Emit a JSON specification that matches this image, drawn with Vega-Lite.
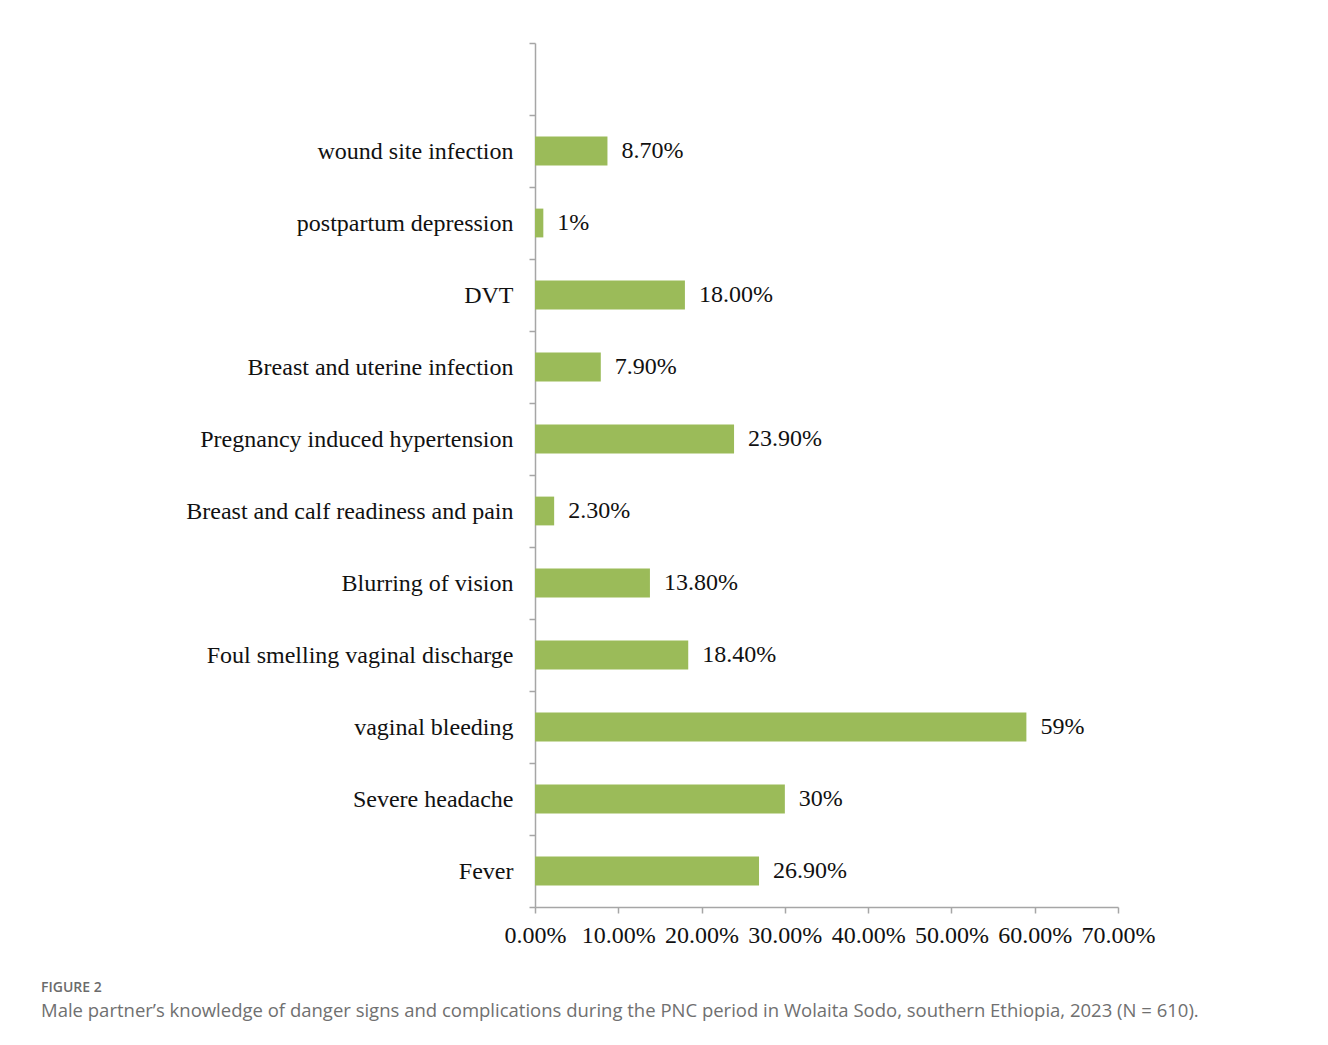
{
  "$schema": "https://vega.github.io/schema/vega-lite/v6.json",
  "autosize": {"type": "none"},
  "padding": {"left": 535, "top": 43, "right": 210, "bottom": 138},
  "width": 583,
  "height": 864,
  "background": "white",
  "config": {"view": {"stroke": null}},
  "title": {
    "text": "FIGURE 2",
    "subtitle": "Male partner’s knowledge of danger signs and complications during the PNC period in Wolaita Sodo, southern Ethiopia, 2023 (N = 610).",
    "orient": "bottom",
    "anchor": "start",
    "frame": "group",
    "dx": -494,
    "offset": 34,
    "font": "Open Sans",
    "fontSize": 14,
    "fontWeight": 600,
    "color": "#6b6b6b",
    "subtitleFont": "Open Sans",
    "subtitleFontSize": 18.5,
    "subtitleColor": "#707070",
    "subtitlePadding": 7
  },
  "data": {
    "values": [
      {"sign": "wound site infection", "pct": 8.7, "label": "8.70%"},
      {"sign": "postpartum depression", "pct": 1, "label": "1%"},
      {"sign": "DVT", "pct": 18.0, "label": "18.00%"},
      {"sign": "Breast and uterine infection", "pct": 7.9, "label": "7.90%"},
      {"sign": "Pregnancy induced hypertension", "pct": 23.9, "label": "23.90%"},
      {"sign": "Breast and calf readiness and pain", "pct": 2.3, "label": "2.30%"},
      {"sign": "Blurring of vision", "pct": 13.8, "label": "13.80%"},
      {"sign": "Foul smelling vaginal discharge", "pct": 18.4, "label": "18.40%"},
      {"sign": "vaginal bleeding", "pct": 59, "label": "59%"},
      {"sign": "Severe headache", "pct": 30, "label": "30%"},
      {"sign": "Fever", "pct": 26.9, "label": "26.90%"}
    ]
  },
  "encoding": {
    "y": {
      "field": "sign",
      "type": "nominal",
      "sort": null,
      "scale": {
        "domain": ["", "wound site infection", "postpartum depression", "DVT", "Breast and uterine infection", "Pregnancy induced hypertension", "Breast and calf readiness and pain", "Blurring of vision", "Foul smelling vaginal discharge", "vaginal bleeding", "Severe headache", "Fever"],
        "paddingInner": 0.6,
        "paddingOuter": 0.3
      },
      "axis": {
        "title": null,
        "domainColor": "#a6a6a6",
        "domainWidth": 1.5,
        "tickColor": "#a6a6a6",
        "tickWidth": 1.5,
        "tickSize": 6,
        "bandPosition": 2.5,
        "tickOffset": -21.6,
        "tickExtra": true,
        "labelOffset": 21.6,
        "labelFont": "Liberation Serif",
        "labelFontSize": 24,
        "labelColor": "#111111",
        "labelPadding": 16,
        "labelLimit": 500
      }
    },
    "x": {
      "field": "pct",
      "type": "quantitative",
      "scale": {"domain": [0, 70], "nice": false},
      "axis": {
        "title": null,
        "values": [0, 10, 20, 30, 40, 50, 60, 70],
        "labelExpr": "format(datum.value, '.2f') + '%'",
        "grid": false,
        "domainColor": "#a6a6a6",
        "domainWidth": 1.5,
        "tickColor": "#a6a6a6",
        "tickWidth": 1.5,
        "tickSize": 6,
        "labelFont": "Liberation Serif",
        "labelFontSize": 24,
        "labelColor": "#111111",
        "labelPadding": 10,
        "labelFlush": false,
        "labelOverlap": false
      }
    }
  },
  "layer": [
    {"mark": {"type": "bar", "color": "#9bbb59"}},
    {
      "mark": {"type": "text", "align": "left", "baseline": "middle", "dx": 14, "font": "Liberation Serif", "fontSize": 24, "color": "#111111"},
      "encoding": {"text": {"field": "label"}}
    }
  ]
}
